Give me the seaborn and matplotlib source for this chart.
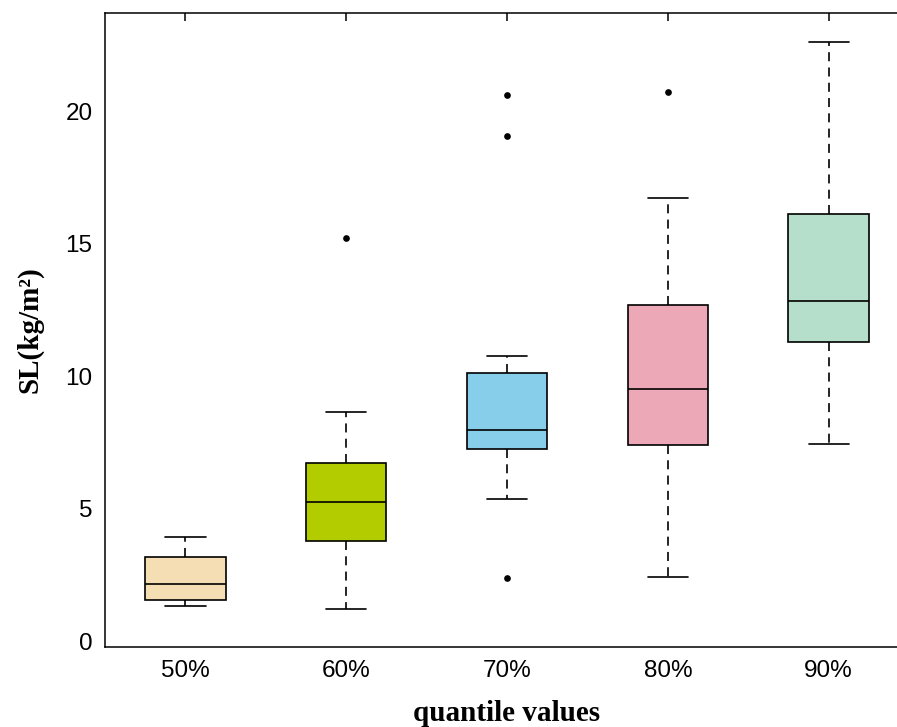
import matplotlib
matplotlib.use('Agg')
import matplotlib.pyplot as plt
import seaborn as sns
import pandas as pd

# values (SL in kg/m2 per quantile level)
categories = ['50%', '60%', '70%', '80%', '90%']
sl_50 = [1.33, 1.45, 1.55, 1.90, 2.15, 2.60, 3.18, 3.50, 3.92]
sl_60 = [1.20, 3.00, 3.78, 4.50, 5.23, 6.00, 6.73, 8.65, 15.20]
sl_70 = [2.38, 5.37, 6.50, 7.25, 7.50, 7.80, 7.95, 8.80, 9.60, 10.10, 10.75, 19.07, 20.60]
sl_80 = [2.40, 5.00, 7.40, 8.50, 9.50, 11.00, 12.70, 16.73, 20.72]
sl_90 = [7.43, 9.50, 11.27, 12.00, 12.84, 14.50, 16.13, 19.00, 22.60]
box_colors = ['#F5DEB3', '#B2CC00', '#87CEEB', '#EDA8B8', '#B6DFCB']

sns.set_style('white')
plt.rcParams['font.family'] = ['Liberation Sans', 'DejaVu Sans']
plt.rcParams['lines.scale_dashes'] = False

series = [sl_50, sl_60, sl_70, sl_80, sl_90]
df = pd.DataFrame({
    'quantile': [c for c, vals in zip(categories, series) for _ in vals],
    'SL': [v for vals in series for v in vals],
})

fig = plt.figure(figsize=(8.97, 7.27), dpi=100)
ax = fig.add_axes([0.1171, 0.1100, 0.8963, 0.8721])

sns.boxplot(data=df, x='quantile', y='SL', hue='quantile', order=categories,
            hue_order=categories, palette=box_colors, legend=False,
            saturation=1, width=0.5, linewidth=1.2, linecolor='black', whis=1.5,
            flierprops=dict(marker='o', markersize=3.8, markerfacecolor='black',
                            markeredgecolor='black'),
            whiskerprops=dict(linestyle=(0, (6.5, 4.5))),
            ax=ax)

ax.set_xlim(-0.5, 4.5)
ax.set_ylim(-0.226, 23.70)
ax.set_yticks([0, 5, 10, 15, 20])

for sp in ax.spines.values():
    sp.set_color('black')
    sp.set_linewidth(1.1)

ax.tick_params(direction='in', length=6, width=1.1, top=True, right=True,
               labelsize=17.5, colors='black', pad=9)

ax.set_xlabel('quantile values', fontfamily='Liberation Serif', fontweight='bold',
              fontsize=21, color='black', labelpad=13)
ax.set_ylabel('SL(kg/m²)', fontfamily='Liberation Serif', fontweight='bold',
              fontsize=21, color='black', labelpad=16)

fig.savefig('out.png', dpi=100)
plt.close(fig)
